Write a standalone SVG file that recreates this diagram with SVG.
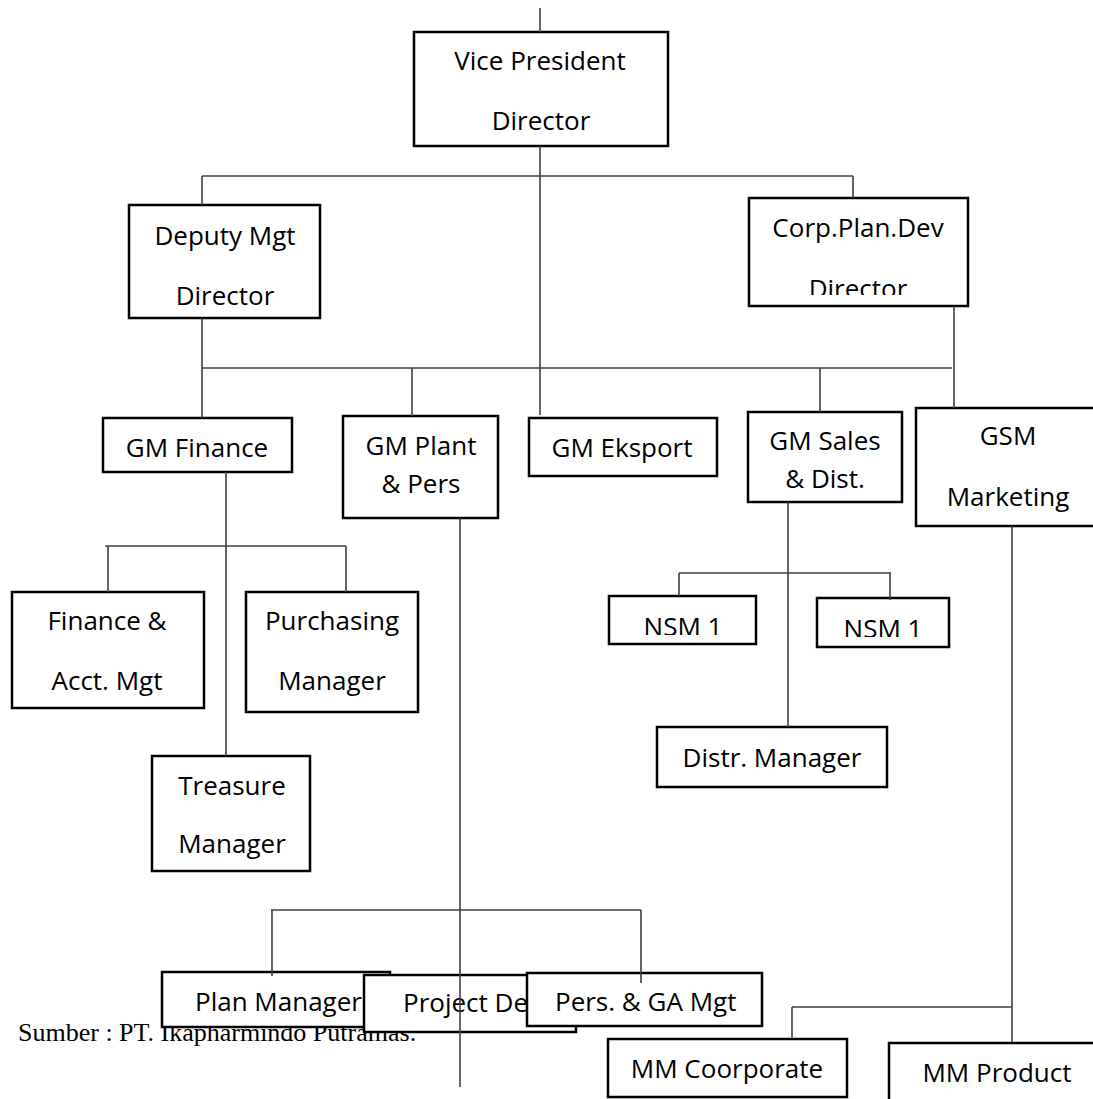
<svg xmlns="http://www.w3.org/2000/svg" width="1093" height="1099" viewBox="0 0 1093 1099">
<style>
.box{fill:#fff;stroke:#000;stroke-width:2.5}
.t{font-family:"Open Sans","Liberation Sans",sans-serif;font-size:26px;fill:#000;text-anchor:middle}
.ts{font-family:"Open Sans","Liberation Sans",sans-serif;font-size:26px;fill:#000}
.src{font-family:"Liberation Serif","Times New Roman",serif;font-size:26px;fill:#000}
.c{stroke:#404040;stroke-width:1.6;fill:none}
</style>
<defs>
<clipPath id="clipCorp"><rect x="749" y="198" width="219" height="97"/></clipPath>
<clipPath id="clipNsmA"><rect x="609" y="596" width="147" height="39"/></clipPath>
<clipPath id="clipNsmB"><rect x="817" y="598" width="132" height="39"/></clipPath>
</defs>
<rect width="1093" height="1099" fill="#fff"/>
<text class="src" x="18" y="1041">Sumber : PT. Ikapharmindo Putramas.</text>
<g id="vp"><rect class="box" x="414" y="32" width="254" height="114"/><text class="t" x="540" y="70">Vice President</text><text class="t" x="541" y="130">Director</text></g>
<g id="deputy"><rect class="box" x="129" y="205" width="191" height="113"/><text class="t" x="225" y="245">Deputy Mgt</text><text class="t" x="225" y="305">Director</text></g>
<g id="corp"><rect class="box" x="749" y="198" width="219" height="108"/><text class="t" x="858" y="237">Corp.Plan.Dev</text><text class="t" x="858" y="298" clip-path="url(#clipCorp)">Director</text></g>
<g id="gmfinance"><rect class="box" x="103" y="418" width="189" height="54"/><text class="t" x="197" y="457">GM Finance</text></g>
<g id="gmplant"><rect class="box" x="343" y="416" width="155" height="102"/><text class="t" x="421" y="455">GM Plant</text><text class="t" x="421" y="493">&amp; Pers</text></g>
<g id="gmeksport"><rect class="box" x="529" y="418" width="188" height="58"/><text class="t" x="622" y="457">GM Eksport</text></g>
<g id="gmsales"><rect class="box" x="748" y="412" width="154" height="90"/><text class="t" x="825" y="450">GM Sales</text><text class="t" x="825" y="488">&amp; Dist.</text></g>
<g id="gsm"><rect class="box" x="916" y="408" width="180" height="118"/><text class="t" x="1008" y="445">GSM</text><text class="t" x="1008" y="506">Marketing</text></g>
<g id="finacct"><rect class="box" x="12" y="592" width="192" height="116"/><text class="t" x="107" y="630">Finance &amp;</text><text class="t" x="107" y="690">Acct. Mgt</text></g>
<g id="purchasing"><rect class="box" x="246" y="592" width="172" height="120"/><text class="t" x="332" y="630">Purchasing</text><text class="t" x="332" y="690">Manager</text></g>
<g id="treasure"><rect class="box" x="152" y="756" width="158" height="115"/><text class="t" x="232" y="795">Treasure</text><text class="t" x="232" y="853">Manager</text></g>
<g id="nsm1a"><rect class="box" x="609" y="596" width="147" height="48"/><text class="t" x="683" y="636" clip-path="url(#clipNsmA)">NSM 1</text></g>
<g id="nsm1b"><rect class="box" x="817" y="598" width="132" height="49"/><text class="t" x="883" y="638" clip-path="url(#clipNsmB)">NSM 1</text></g>
<g id="distr"><rect class="box" x="657" y="727" width="230" height="60"/><text class="t" x="772" y="767">Distr. Manager</text></g>
<g id="plan"><rect class="box" x="162" y="972" width="228" height="55"/><text class="ts" x="195" y="1011">Plan Manager</text></g>
<g id="project"><rect class="box" x="364" y="975" width="212" height="57"/><text class="ts" x="403" y="1012">Project Dev</text></g>
<g id="pers"><rect class="box" x="527" y="973" width="235" height="53"/><text class="ts" x="555" y="1011">Pers. &amp; GA Mgt</text></g>
<g id="mmcorp"><rect class="box" x="608" y="1039" width="239" height="58"/><text class="t" x="727" y="1078">MM Coorporate</text></g>
<g id="mmproduct"><rect class="box" x="889" y="1043" width="210" height="70"/><text class="t" x="997" y="1082">MM Product</text></g>
<g id="connectors">
<path class="c" d="M540 8V32"/>
<path class="c" d="M540 146V415"/>
<path class="c" d="M202 176H853M202 176V205M853 176V198"/>
<path class="c" d="M202 318V418M202 368H952M412 368V416M820 368V412"/>
<path class="c" d="M954 306V408"/>
<path class="c" d="M226 472V756M105 546H346M108 546V592M346 546V592"/>
<path class="c" d="M460 518V1087"/>
<path class="c" d="M271 910H641M272 910V976M641 910V983"/>
<path class="c" d="M788 502V727M679 573H891M679 573V596M890 573V600"/>
<path class="c" d="M1012 526V1042M792 1007H1012M792 1007V1039"/>
</g>
</svg>
